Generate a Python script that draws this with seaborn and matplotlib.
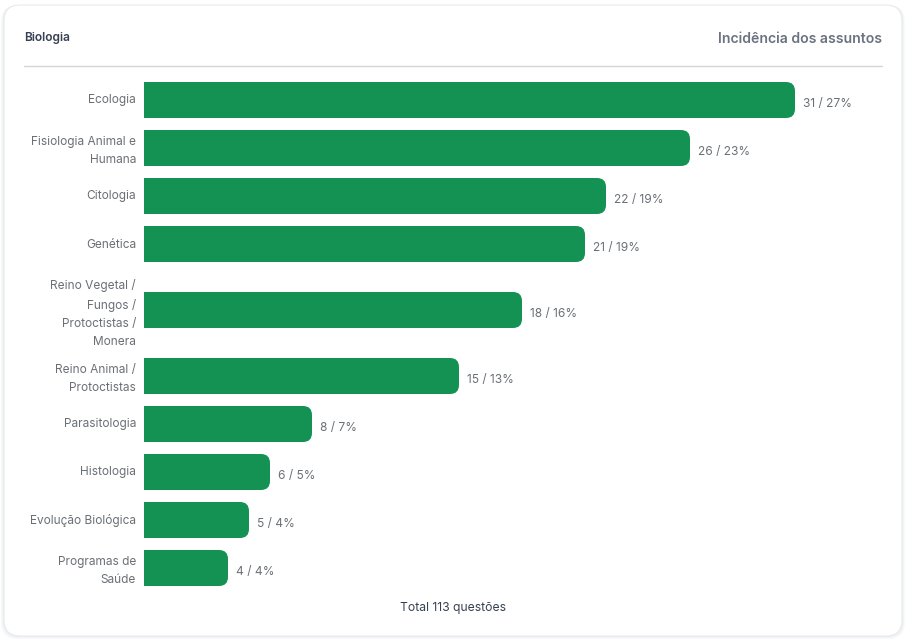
import matplotlib
matplotlib.use("Agg")
import matplotlib.pyplot as plt
import matplotlib.transforms as mtrans
import seaborn as sns
import numpy as np
from matplotlib.patches import FancyBboxPatch, PathPatch
from matplotlib.path import Path

topics = [
    "Ecologia",
    "Fisiologia Animal e\nHumana",
    "Citologia",
    "Genética",
    "Reino Vegetal /\nFungos /\nProtoctistas /\nMonera",
    "Reino Animal /\nProtoctistas",
    "Parasitologia",
    "Histologia",
    "Evolução Biológica",
    "Programas de\nSaúde",
]
counts = [31, 26, 22, 21, 18, 15, 8, 6, 5, 4]
percents = [27, 23, 19, 19, 16, 13, 7, 5, 4, 4]
total = 113

W, H = 906, 643
GREEN = "#149254"
GRAY = "#6b7076"
TITLE_GRAY = "#6b7280"
DARK = "#374151"

sns.set_theme(style="white")
plt.rcParams["font.family"] = ["Inter", "DejaVu Sans"]


def rounded_right(x0, x1, y0, y1, rx, ry):
    # bar with only the right corners rounded
    verts = [(x0, y0), (x1 - rx, y0), (x1, y0), (x1, y0 + ry), (x1, y1 - ry),
             (x1, y1), (x1 - rx, y1), (x0, y1), (x0, y0)]
    codes = [Path.MOVETO, Path.LINETO, Path.CURVE3, Path.CURVE3, Path.LINETO,
             Path.CURVE3, Path.CURVE3, Path.LINETO, Path.CLOSEPOLY]
    return Path(verts, codes)


fig = plt.figure(figsize=(W / 100, H / 100), dpi=100, facecolor="white")

# card with soft shadow, in pixel coords
bg = fig.add_axes([0, 0, 1, 1], zorder=0)
bg.set_xlim(0, W)
bg.set_ylim(H, 0)
bg.axis("off")
for grow, col in [(3, "#f8f9fa"), (2, "#f3f4f5"), (1, "#eceef0")]:
    bg.add_patch(FancyBboxPatch((4 - grow, 5), 898 + 2 * grow, 631 + grow,
                                boxstyle="round,pad=0,rounding_size=17",
                                fc=col, ec="none"))
bg.add_patch(FancyBboxPatch((4, 5), 898, 631, boxstyle="round,pad=0,rounding_size=16",
                            fc="white", ec="#e8eaed", lw=0.8))
bg.plot([24, 882], [65.5, 65.5], color="#d4d5d7", lw=1)
bg.text(24, 38, "Biologia", fontsize=8.6, fontweight=600, color=DARK, va="center", ha="left")
bg.text(882, 39, "Incidência dos assuntos", fontsize=10.1, fontweight=600, color=TITLE_GRAY,
        va="center", ha="right")
bg.text(453.5, 608, f"Total {total} questões", fontsize=8.75, color=DARK, va="center", ha="center")

# row height follows the number of label lines
row_heights = [84 if t.count("\n") == 3 else 48 for t in topics]
edges = np.cumsum([0] + row_heights)
centers = (edges[:-1] + edges[1:]) / 2

ax = fig.add_axes([144 / W, 1 - 592 / H, 738 / W, 516 / H], zorder=1)
ax.patch.set_alpha(0)
sns.barplot(x=counts, y=centers, orient="h", native_scale=True, color=GREEN,
            saturation=1, width=0.75, ax=ax)
ax.set_xlim(0, 738 / 21)
ax.set_ylim(edges[-1], 0)

x_per_px = 1 / 21
for bar in ax.patches:
    bar.set_visible(False)
    x, y, w, h = bar.get_x(), bar.get_y(), bar.get_width(), bar.get_height()
    ax.add_patch(PathPatch(rounded_right(x, x + w, y, y + h, 9 * x_per_px, 9),
                           fc=GREEN, ec="none"))

labels = [f"{c} / {p}%" for c, p in zip(counts, percents)]
for txt in ax.bar_label(ax.containers[0], labels=labels, padding=5.8,
                        fontsize=8.6, color=GRAY):
    txt.xyann = (5.8, -2.6)

ax.set_yticks(centers)
ax.set_yticklabels(topics, fontsize=8.55, color=GRAY, ha="right", linespacing=1.66)
ax.tick_params(axis="y", length=0, pad=5.8)
shift = mtrans.ScaledTranslation(0, 1 / 100, fig.dpi_scale_trans)
for lab in ax.get_yticklabels():
    lab.set_transform(lab.get_transform() + shift)
ax.set_xticks([])
ax.set_xlabel("")
ax.set_ylabel("")
sns.despine(ax=ax, left=True, bottom=True)

fig.savefig("out.png", dpi=100)
